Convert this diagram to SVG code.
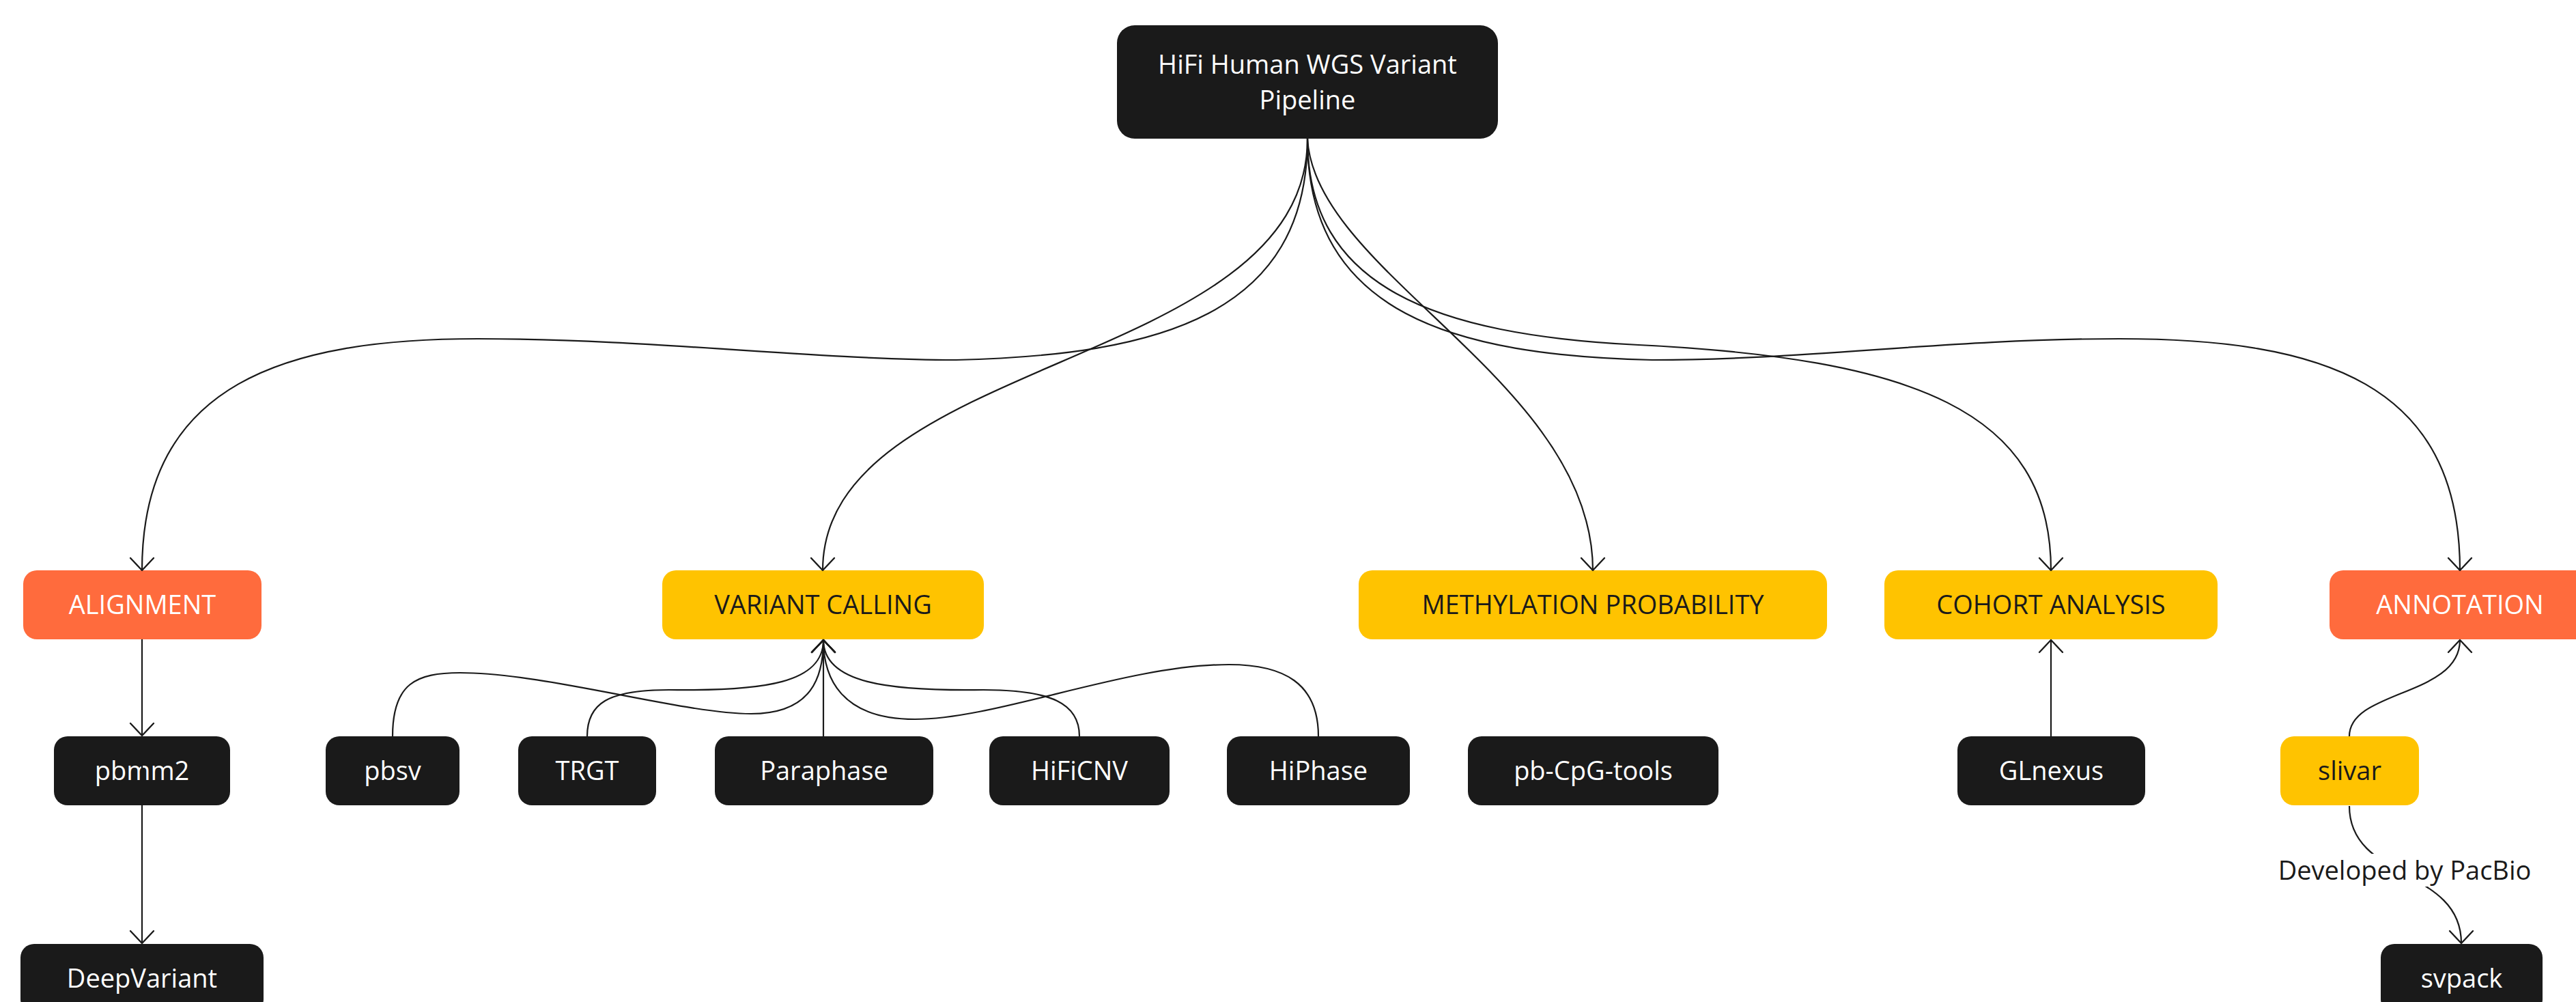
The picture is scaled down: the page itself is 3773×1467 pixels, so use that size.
<svg xmlns="http://www.w3.org/2000/svg" width="3773" height="1467" viewBox="0 0 3773 1467">
<style>
  .dark rect { fill: #1a1a1a; }
  .orange rect { fill: #FF6B3D; }
  .yellow rect { fill: #FFC300; }
  text { font-family: "Open Sans", "Noto Sans", "Liberation Sans", sans-serif; font-size: 38px; text-anchor: middle; }
  .dark text, .orange text { fill: #ffffff; }
  .yellow text { fill: #1a1a1a; }
  .edge { fill: none; stroke: #1a1a1a; stroke-width: 2.2; }
  .arr { marker-end: url(#arrow); }
  .lbl { fill: #1a1a1a; }
</style>
<defs>
  <marker id="arrow" markerUnits="userSpaceOnUse" markerWidth="40" markerHeight="40" viewBox="-20 -20 40 40" refX="0" refY="0" orient="auto" overflow="visible">
    <path d="M-18,-17 L0,0 L-18,17" fill="none" stroke="#1a1a1a" stroke-width="2.4" stroke-linecap="round" stroke-linejoin="round"/>
  </marker>
</defs>
<rect x="0" y="0" width="3773" height="1467" fill="#ffffff"/>

<g id="node-root" class="dark">
  <rect x="1636" y="37" width="558" height="166" rx="26"/>
  <text x="1915" y="108">HiFi Human WGS Variant</text>
  <text x="1915" y="160">Pipeline</text>
</g>
<g id="node-alignment" class="orange">
  <rect x="34" y="835" width="349" height="101" rx="20"/>
  <text x="208.5" y="899">ALIGNMENT</text>
</g>
<g id="node-variant-calling" class="yellow">
  <rect x="970" y="835" width="471" height="101" rx="20"/>
  <text x="1205.5" y="899">VARIANT CALLING</text>
</g>
<g id="node-methylation" class="yellow">
  <rect x="1990" y="835" width="686" height="101" rx="20"/>
  <text x="2333" y="899">METHYLATION PROBABILITY</text>
</g>
<g id="node-cohort" class="yellow">
  <rect x="2760" y="835" width="488" height="101" rx="20"/>
  <text x="3004" y="899">COHORT ANALYSIS</text>
</g>
<g id="node-annotation" class="orange">
  <rect x="3412" y="835" width="382" height="101" rx="20"/>
  <text x="3603" y="899">ANNOTATION</text>
</g>
<g id="node-pbmm2" class="dark">
  <rect x="79" y="1078" width="258" height="101" rx="20"/>
  <text x="208" y="1142">pbmm2</text>
</g>
<g id="node-pbsv" class="dark">
  <rect x="477" y="1078" width="196" height="101" rx="20"/>
  <text x="575" y="1142">pbsv</text>
</g>
<g id="node-trgt" class="dark">
  <rect x="759" y="1078" width="202" height="101" rx="20"/>
  <text x="860" y="1142">TRGT</text>
</g>
<g id="node-paraphase" class="dark">
  <rect x="1047" y="1078" width="320" height="101" rx="20"/>
  <text x="1207" y="1142">Paraphase</text>
</g>
<g id="node-hificnv" class="dark">
  <rect x="1449" y="1078" width="264" height="101" rx="20"/>
  <text x="1581" y="1142">HiFiCNV</text>
</g>
<g id="node-hiphase" class="dark">
  <rect x="1797" y="1078" width="268" height="101" rx="20"/>
  <text x="1931" y="1142">HiPhase</text>
</g>
<g id="node-pb-cpg-tools" class="dark">
  <rect x="2150" y="1078" width="367" height="101" rx="20"/>
  <text x="2333.5" y="1142">pb-CpG-tools</text>
</g>
<g id="node-glnexus" class="dark">
  <rect x="2867" y="1078" width="275" height="101" rx="20"/>
  <text x="3004.5" y="1142">GLnexus</text>
</g>
<g id="node-slivar" class="yellow">
  <rect x="3340" y="1078" width="203" height="101" rx="20"/>
  <text x="3441.5" y="1142">slivar</text>
</g>
<g id="node-deepvariant" class="dark">
  <rect x="30" y="1382" width="356" height="101" rx="20"/>
  <text x="208" y="1446">DeepVariant</text>
</g>
<g id="node-svpack" class="dark">
  <rect x="3487" y="1382" width="237" height="101" rx="20"/>
  <text x="3605.5" y="1446">svpack</text>
</g>

<g id="connectors">
  <!-- root to level 2 -->
  <path class="edge arr" d="M1915,203 C1915,460 1700,520 1400,527 C1200,527 950,496 700,496 C420,496 208,560 208,835"/>
  <path class="edge arr" d="M1915,203 C1915,540 1205,520 1205,835"/>
  <path class="edge arr" d="M1915,203 C1925,400 2333,560 2333,835"/>
  <path class="edge arr" d="M1915,203 C1915,420 2100,490 2400,505 C2800,525 3004,600 3004,835"/>
  <path class="edge arr" d="M1915,203 C1915,460 2130,520 2420,527 C2650,527 2850,496 3104,496 C3400,496 3603,560 3603,835"/>
  <!-- alignment chain -->
  <path class="edge arr" d="M208,936 L208,1077"/>
  <path class="edge arr" d="M208,1078 L208,1381"/>
  <!-- into variant calling -->
  <path class="edge arr" d="M575,1078 C575,1000 610,985 674,985 C800,985 1000,1045 1100,1045 C1190,1045 1206,990 1206,937"/>
  <path class="edge arr" d="M860,1078 C860,1030 890,1010 980,1010 C1120,1012 1206,1000 1206,937"/>
  <path class="edge arr" d="M1206,1078 L1206,937"/>
  <path class="edge arr" d="M1581,1078 C1581,1030 1540,1010 1440,1010 C1300,1012 1206,1000 1206,937"/>
  <path class="edge arr" d="M1931,1078 C1931,1000 1880,973 1800,973 C1650,973 1460,1053 1340,1053 C1230,1053 1206,990 1206,937"/>
  <!-- cohort -->
  <path class="edge arr" d="M3004,1078 L3004,937"/>
  <!-- annotation -->
  <path class="edge arr" d="M3441,1078 C3441,1010 3603,1020 3603,937"/>
  <!-- slivar to svpack with label -->
  <path class="edge arr" d="M3441,1180 C3441,1290 3605,1270 3605,1381"/>
  <rect x="3326" y="1250" width="392" height="48" fill="#ffffff"/>
  <text class="lbl" x="3522" y="1288">Developed by PacBio</text>
</g>
</svg>
